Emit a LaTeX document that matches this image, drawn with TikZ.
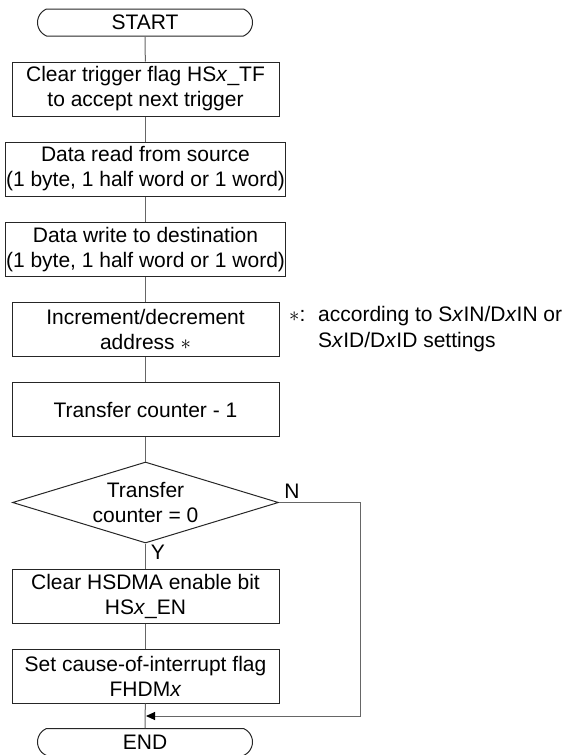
\documentclass[tikz,border=0pt]{standalone}
\usepackage{fontspec}
\setmainfont{Liberation Sans}
\usepackage{tikz}
\usetikzlibrary{arrows.meta}
\usetikzlibrary{shapes.geometric,shapes.misc}
\colorlet{flowline}{black!60}
\colorlet{boxline}{black!85}
\tikzset{
    chartfont/.style={font=\fontsize{21}{25}\selectfont},
    procbox/.style={chartfont, draw=boxline, line width=1pt, rectangle, minimum width=267pt, minimum height=54pt, inner sep=1pt, align=center},
    termbox/.style={chartfont, draw=boxline, line width=1pt, rounded rectangle, rounded rectangle arc length=135, minimum width=217pt, minimum height=27pt, inner sep=1pt},
    decbox/.style={chartfont, draw=boxline, line width=1pt, diamond, aspect=3.3, minimum width=266pt, minimum height=81pt, inner sep=0pt, align=center},
    flow/.style={draw=flowline, line width=1pt},
    yesno/.style={chartfont, inner sep=0pt}
}

\begin{document}
\begin{tikzpicture}[x=1pt, y=-1pt]
        \useasboundingbox (0,0) rectangle (567,755);
        \node[termbox] (start) at (145,22.5) {START};
        \node[procbox] (trig) at (145.5,89) {Clear trigger flag HS\textit{x}\_TF\\to accept next trigger};
        \node[procbox] (rdsrc) at (145.5,169) {Data read from source\\(1 byte, 1 half word or 1 word)};
        \node[procbox] (wrdst) at (145.5,249.5) {Data write to destination\\(1 byte, 1 half word or 1 word)};
        \node[procbox] (incdec) at (145.5,329.5) {Increment/decrement\\address $\ast$};
        \node[procbox] (cntdec) at (145.5,409.5) {Transfer counter - 1};
        \node[decbox] (cntzero) at (145.5,502.5) {Transfer\\counter = 0};
        \node[procbox] (clren) at (145.5,596) {Clear HSDMA enable bit\\HS\textit{x}\_EN};
        \node[procbox] (setint) at (145.5,676) {Set cause-of-interrupt flag\\FHDM\textit{x}};
        \node[termbox] (end) at (145,742) {END};
        % footnote for the address update
        \node[chartfont, anchor=base west, inner sep=0pt] (star) at (289,321) {$\ast$:};
        \node[chartfont, anchor=base west, inner sep=0pt] (noteone) at (318,321) {according to S\textit{x}IN/D\textit{x}IN or};
        \node[chartfont, anchor=base west, inner sep=0pt] (notetwo) at (318,347) {S\textit{x}ID/D\textit{x}ID settings};
        % main path
        \foreach \a/\b in {start/trig, trig/rdsrc, rdsrc/wrdst, wrdst/incdec, incdec/cntdec, cntdec/cntzero, cntzero/clren, clren/setint, setint/end}
        {
            \draw[flow] (\a) -- (\b);
        }
        \node[yesno] (yes) at (158,552) {Y};
        \node[yesno] (no) at (292,491) {N};
        % loop back on N
        \coordinate (nturn) at (360,502.5);
        \coordinate (njoin) at (146,716);
        \draw[flow, -{Triangle[length=9pt, width=8pt, color=black]}] (cntzero.east) -- (nturn) |- (njoin);
    \end{tikzpicture}
\end{document}
